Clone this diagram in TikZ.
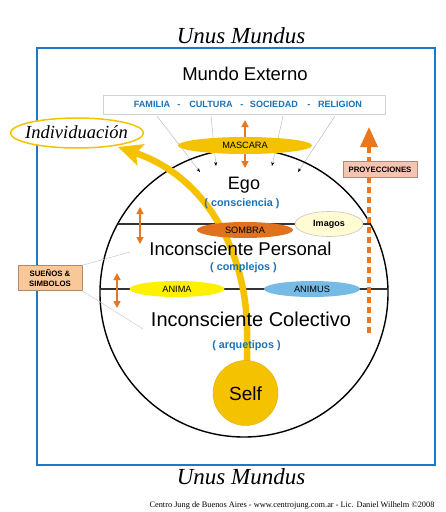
\documentclass[tikz,border=0pt]{standalone}
\usepackage{fontspec}
\setmainfont{Liberation Sans}
\newfontfamily\serifface{Liberation Serif}
\usetikzlibrary{shapes.geometric,arrows.meta}
\definecolor{boxblue}{HTML}{1E78C8}
\definecolor{txtblue}{HTML}{1A72B8}
\definecolor{arrorange}{HTML}{E8771F}
\definecolor{gold}{HTML}{F5C200}
\definecolor{sombrac}{HTML}{E0721F}
\definecolor{imagosc}{HTML}{FFFBD2}
\definecolor{animac}{HTML}{FFF000}
\definecolor{animusc}{HTML}{76BAE6}
\definecolor{suenosc}{HTML}{F8C898}
\definecolor{proyc}{HTML}{F5C5B2}
\tikzset{
  oval/.style={ellipse, inner sep=0pt, font=\fontsize{9.2}{10}\selectfont},
  dblarrow/.style={draw=arrorange, line width=1.6pt, {Triangle[width=7pt,length=7pt]}-{Triangle[width=7pt,length=7pt]}},
  feed/.style={draw=gray!60, line width=0.4pt, -{Stealth[length=4pt,width=3pt,color=black]}},
  bigtext/.style={font=\fontsize{18.5}{20}\selectfont, anchor=base},
  subtext/.style={font=\bfseries\fontsize{10.8}{12}\selectfont, text=txtblue, anchor=base},
  itemtext/.style={font=\bfseries\fontsize{9.1}{10}\selectfont, text=txtblue, anchor=base},
  labelbox/.style={draw=#1!70!black, fill=#1, inner sep=1pt, font=\bfseries\fontsize{7.8}{9.5}\selectfont},
  serifbig/.style={font=\serifface\itshape\fontsize{23}{25}\selectfont, anchor=base},
  graylink/.style={draw=gray!40, line width=0.5pt}
}
\begin{document}
\begin{tikzpicture}[x=1pt,y=-1pt]
\useasboundingbox[fill=white] (0,0) rectangle (446,512);

% outer frame
\node (frame) [draw=boxblue, line width=2.4pt, minimum width=398pt, minimum height=417pt, inner sep=0pt] at (236,256.5) {};
\node (unustop) [serifbig] at (241,43) {Unus Mundus};
\node (unusbot) [serifbig] at (241,484) {Unus Mundus};
\node (footer) [font=\serifface\fontsize{8.3}{9}\selectfont, anchor=base] at (292,507.5) {Centro Jung de Buenos Aires - www.centrojung.com.ar - Lic. Daniel Wilhelm ©2008};

\node (mundo) [font=\fontsize{18.5}{20}\selectfont, anchor=base] at (245,80) {Mundo Externo};

% influences box
\node (infl) [draw=gray!35, line width=0.6pt, fill=white, minimum width=282pt, minimum height=19pt, inner sep=0pt] at (244,104.5) {};
\node (fam) [itemtext] at (152,107) {FAMILIA};
\node (d1) [itemtext] at (179,107) {-};
\node (cul) [itemtext] at (211,107) {CULTURA};
\node (d2) [itemtext] at (242,107) {-};
\node (soc) [itemtext] at (274,107) {SOCIEDAD};
\node (d3) [itemtext] at (309,107) {-};
\node (rel) [itemtext] at (340,107) {RELIGION};

\coordinate (f1s) at (157,116);
\coordinate (f2s) at (211,116);
\coordinate (f3s) at (283,116);
\coordinate (f4s) at (335,116);
\coordinate (f1e) at (200,172);
\coordinate (f2e) at (216,166);
\coordinate (f3e) at (272,166);
\coordinate (f4e) at (298,172);
\draw[feed] (f1s) -- (f1e);
\draw[feed] (f2s) -- (f2e);
\draw[feed] (f3s) -- (f3e);
\draw[feed] (f4s) -- (f4e);

% psyche circle
\node (psyche) [circle, draw, line width=1.4pt, minimum size=288pt, inner sep=0pt] at (244,293) {};
\coordinate (c1l) at (117.6,224);
\coordinate (c1r) at (370.4,224);
\coordinate (c2l) at (100,289);
\coordinate (c2r) at (388,289);
\draw[line width=1.1pt, black!80] (c1l) -- (c1r);
\draw[line width=1.1pt, black!80] (c2l) -- (c2r);

% double arrows
\coordinate (m1) at (245,120);
\coordinate (m2) at (245,168);
\coordinate (s1) at (140,207);
\coordinate (s2) at (140,244);
\coordinate (a1) at (117,273);
\coordinate (a2) at (117,308);
\draw[dblarrow] (m1) -- (m2);
\draw[dblarrow] (s1) -- (s2);
\draw[dblarrow] (a1) -- (a2);

% individuation arrow
\coordinate (selftop) at (247,362);
\coordinate (selfup) at (247,330);
\coordinate (indtip) at (118,147);
\draw[gold, line width=6.5pt, -{Stealth[length=24pt,width=22pt,inset=5pt]}] (selftop) -- (selfup) .. controls (247,265) and (215,180) .. (indtip);

% ellipses
\node (mascara) [oval, fill=gold, minimum width=134pt, minimum height=17pt] at (245,145.5) {MASCARA};
\node (sombra) [oval, fill=sombrac, minimum width=96pt, minimum height=16pt] at (245,230) {SOMBRA};
\node (imagos) [oval, fill=imagosc, draw=gray!45, line width=0.6pt, minimum width=68pt, minimum height=25pt, font=\bfseries\fontsize{9}{10}\selectfont] at (329,224) {Imagos};
\node (anima) [oval, fill=animac, minimum width=95pt, minimum height=16pt] at (177,289) {ANIMA};
\node (animus) [oval, fill=animusc, minimum width=96pt, minimum height=16pt] at (312,289) {ANIMUS};

\node (indiv) [ellipse, draw=gold, line width=1.5pt, fill=white, minimum width=133pt, minimum height=30pt, inner sep=0pt] at (77,133) {};
\node (indivtext) [font=\serifface\itshape\fontsize{18.5}{20}\selectfont, anchor=base] at (76.5,138) {Individuación};

% layer texts
\node (ego) [bigtext, font=\fontsize{18}{20}\selectfont] at (244,189) {Ego};
\node (consc) [subtext] at (242,206) {( consciencia )};
\node (personal) [bigtext] at (240.5,255) {Inconsciente Personal};
\node (compl) [subtext] at (243.5,270) {( complejos )};
\node (colect) [bigtext, font=\fontsize{20}{22}\selectfont] at (251,326.7) {Inconsciente Colectivo};
\node (arq) [subtext] at (246.5,348) {( arquetipos )};

% self
\node (self) [circle, fill=gold, draw=gold!90!black, line width=0.4pt, minimum size=65pt, inner sep=0pt] at (245.5,393) {};
\node (selftext) [font=\fontsize{19}{20}\selectfont, anchor=base] at (245.5,400) {Self};

% projections
\coordinate (pbot) at (369,333);
\coordinate (ptop) at (369,127);
\draw[arrorange, line width=3.5pt, dash pattern=on 6pt off 4pt, -{Triangle[length=20pt,width=17pt]}] (pbot) -- (ptop);
\node (proy) [labelbox=proyc, minimum width=74pt, minimum height=16pt] at (380,169.5) {PROYECCIONES};

% dreams and symbols
\node (suenos) [labelbox=suenosc, align=center, minimum width=64pt, minimum height=25pt] at (50,278) {SUEÑOS \&\\SIMBOLOS};
\coordinate (sp) at (130,252);
\coordinate (sc) at (143,329);
\draw[graylink] (suenos.north east) -- (sp);
\draw[graylink] (suenos.south east) -- (sc);
\end{tikzpicture}
\end{document}
